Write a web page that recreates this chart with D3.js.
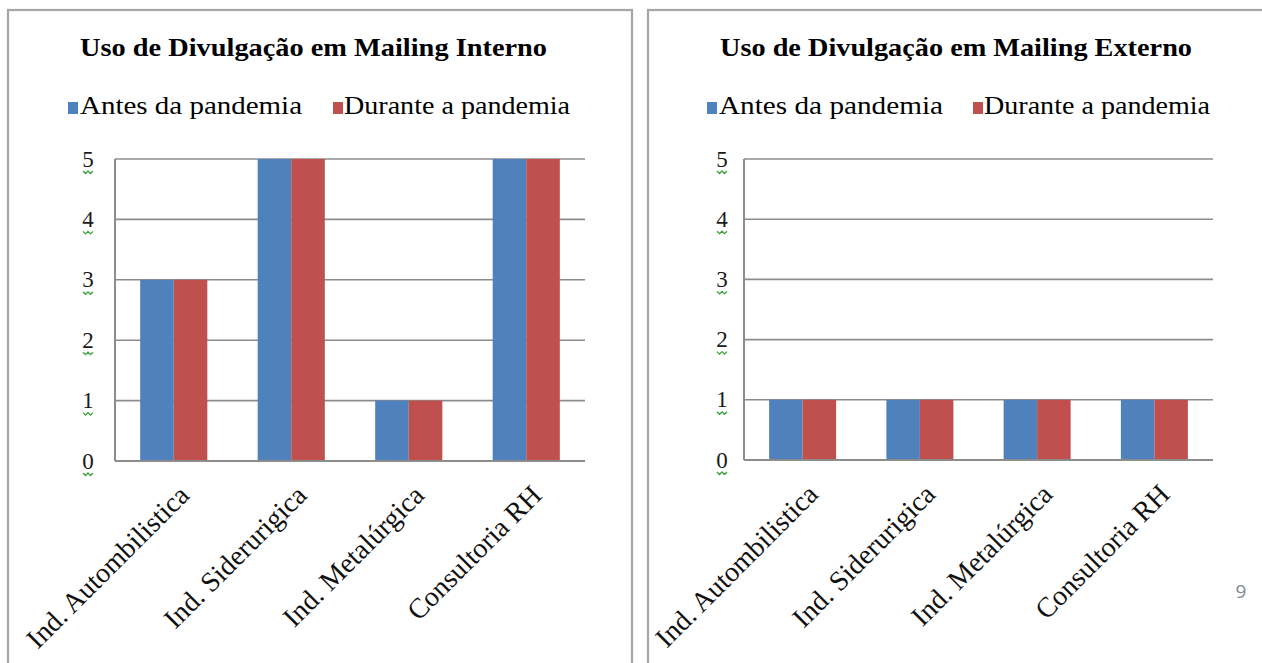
<!DOCTYPE html>
<html>
<head>
<meta charset="utf-8">
<script src="https://cdn.jsdelivr.net/npm/d3@7"></script>
<style>
  html, body { margin: 0; padding: 0; background: #ffffff; }
  svg { display: block; }
</style>
</head>
<body>
<svg id="chart" width="1262" height="663"></svg>
<script>
// Categories and series shared by both charts
const categories = ["Ind. Autombilistica", "Ind. Siderurigica", "Ind. Metalúrgica", "Consultoria RH"];
const seriesNames = ["Antes da pandemia", "Durante a pandemia"];
const seriesColors = ["#4f81bd", "#c0504d"];
const yTicks = [0, 1, 2, 3, 4, 5];

// Mailing interno
const internoAntes = [3, 5, 1, 5];
const internoDurante = [3, 5, 1, 5];
// Mailing externo
const externoAntes = [1, 1, 1, 1];
const externoDurante = [1, 1, 1, 1];

const svg = d3.select("#chart");
const serif = "'Liberation Serif', 'Times New Roman', serif";

function drawPanel(cfg) {
  const g = svg.append("g");

  // Frame around the chart
  g.append("rect")
    .attr("x", cfg.frame.x).attr("y", cfg.frame.y)
    .attr("width", cfg.frame.w).attr("height", cfg.frame.h)
    .attr("fill", "#ffffff").attr("stroke", "#a6a6a6").attr("stroke-width", 2.2);

  // Title
  g.append("text")
    .attr("x", cfg.titleX).attr("y", cfg.titleY)
    .attr("font-family", serif).attr("font-weight", "bold")
    .attr("font-size", 25).attr("fill", "#000")
    .attr("textLength", cfg.titleLen).attr("lengthAdjust", "spacingAndGlyphs")
    .text(cfg.title);

  // Legend
  seriesNames.forEach((name, i) => {
    const it = cfg.legend[i];
    g.append("rect")
      .attr("x", it.sx).attr("y", cfg.legendY - 12)
      .attr("width", 10).attr("height", 12)
      .attr("fill", seriesColors[i]);
    g.append("text")
      .attr("x", it.tx).attr("y", cfg.legendY)
      .attr("font-family", serif).attr("font-size", 26).attr("fill", "#000")
      .attr("textLength", it.len).attr("lengthAdjust", "spacingAndGlyphs")
      .text(name);
  });

  const x = d3.scaleBand().domain(categories).range([cfg.x0, cfg.x1]).padding(0);
  const xs = d3.scaleBand().domain(seriesNames).range([0, x.bandwidth()])
    .paddingInner(0).paddingOuter(0.75);
  const y = d3.scaleLinear().domain([0, 5]).range([cfg.y0, cfg.y1]);

  // Horizontal gridlines
  g.append("g").selectAll("line").data(yTicks.filter(d => d > 0)).join("line")
    .attr("x1", cfg.x0).attr("x2", cfg.x1)
    .attr("y1", d => y(d)).attr("y2", d => y(d))
    .attr("stroke", "#8c8c8c").attr("stroke-width", 1.6);

  // Bars
  const rows = categories.map((c, i) => ({ cat: c, vals: [cfg.values[0][i], cfg.values[1][i]] }));
  g.append("g").selectAll("g").data(rows).join("g")
    .attr("transform", d => `translate(${x(d.cat)},0)`)
    .selectAll("rect").data(d => d.vals.map((v, k) => ({ v, k }))).join("rect")
    .attr("x", d => xs(seriesNames[d.k]))
    .attr("width", xs.bandwidth())
    .attr("y", d => y(d.v))
    .attr("height", d => y(0) - y(d.v))
    .attr("fill", d => seriesColors[d.k]);

  // Axis lines (value axis and category axis)
  g.append("line")
    .attr("x1", cfg.x0).attr("x2", cfg.x0).attr("y1", cfg.y1).attr("y2", cfg.y0)
    .attr("stroke", "#8c8c8c").attr("stroke-width", 2);
  g.append("line")
    .attr("x1", cfg.x0).attr("x2", cfg.x1).attr("y1", cfg.y0).attr("y2", cfg.y0)
    .attr("stroke", "#8c8c8c").attr("stroke-width", 2);

  // Value axis labels with underline marks
  const tickG = g.append("g").selectAll("g").data(yTicks).join("g")
    .attr("transform", d => `translate(${cfg.labelX},${y(d)})`);
  tickG.append("text")
    .attr("text-anchor", "middle").attr("dy", "0.33em")
    .attr("font-family", serif).attr("font-size", 23).attr("fill", "#1a1a1a")
    .text(d => d);
  tickG.append("path")
    .attr("d", "M-5,12 l2.5,2.5 l2.5,-2.5 l2.5,2.5 l2.5,-2.5")
    .attr("fill", "none").attr("stroke", "#3aa03a").attr("stroke-width", 1.3);

  // Rotated category labels
  g.append("g").selectAll("text").data(categories).join("text")
    .attr("transform", d => `translate(${x(d) + x.bandwidth() / 2 + cfg.catDx},${cfg.y0 + cfg.catDy}) rotate(-45)`)
    .attr("text-anchor", "end")
    .attr("font-family", serif).attr("font-size", 28).attr("fill", "#111")
    .text(d => d);
}

drawPanel({
  frame: { x: 8, y: 10, w: 624, h: 700 },
  title: "Uso de Divulgação em Mailing Interno",
  titleX: 80, titleY: 56, titleLen: 467,
  legendY: 114,
  legend: [{ sx: 68, tx: 80, len: 222 }, { sx: 333, tx: 344, len: 226 }],
  x0: 115, x1: 585, y0: 461, y1: 159,
  labelX: 88, catDx: 17, catDy: 36,
  values: [internoAntes, internoDurante]
});

drawPanel({
  frame: { x: 648, y: 10, w: 700, h: 700 },
  title: "Uso de Divulgação em Mailing Externo",
  titleX: 720, titleY: 56, titleLen: 472,
  legendY: 114,
  legend: [{ sx: 707, tx: 719, len: 224 }, { sx: 973, tx: 984, len: 226 }],
  x0: 744, x1: 1213, y0: 460, y1: 159,
  labelX: 722, catDx: 17, catDy: 36,
  values: [externoAntes, externoDurante]
});

// Slide number
svg.append("text")
  .attr("x", 1241).attr("y", 598)
  .attr("text-anchor", "middle")
  .attr("font-family", "'Open Sans', 'DejaVu Sans', sans-serif")
  .attr("font-size", 19).attr("fill", "#7f8797")
  .text("9");
</script>
</body>
</html>
